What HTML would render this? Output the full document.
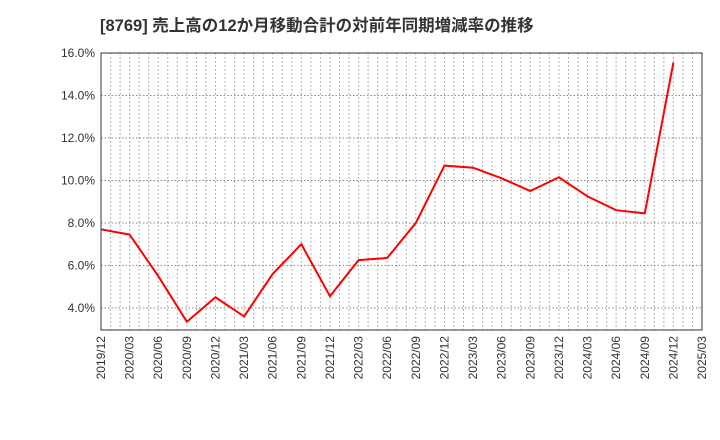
<!DOCTYPE html>
<html><head><meta charset="utf-8"><style>
body{margin:0;background:#fff;}
svg{display:block;font-family:"Liberation Sans","Noto Sans CJK JP",sans-serif;}
</style></head><body>
<svg id="chart" width="720" height="440">
<text x="100" y="31" font-size="16.5" font-weight="bold" fill="#333">[8769]  売上高の12か月移動合計の対前年同期増減率の推移</text>
<g id="grid"></g>
<g id="yaxis"></g>
<g id="xaxis"></g>
<rect x="101" y="53" width="601" height="277" fill="none" stroke="#333" stroke-width="1"/>
<polyline id="line" fill="none" stroke="#f00" stroke-width="2"/>
</svg>
<script>
const categories=["2019/12","2020/03","2020/06","2020/09","2020/12","2021/03","2021/06","2021/09","2021/12","2022/03","2022/06","2022/09","2022/12","2023/03","2023/06","2023/09","2023/12","2024/03","2024/06","2024/09","2024/12","2025/03"];
const values=[7.7,7.45,5.5,3.35,4.5,3.6,5.6,7.0,4.55,6.25,6.35,8.0,10.7,10.6,10.1,9.5,10.15,9.25,8.6,8.45,15.55];
const yTicks=[4,6,8,10,12,14,16];
const L=101,R=702,T=53,B=330,yMin=2.96,yMax=16;
const ns="http://www.w3.org/2000/svg";
const xs=i=>L+(R-L)*i/(categories.length-1);
const ys=v=>B-(v-yMin)/(yMax-yMin)*(B-T);
const grid=document.getElementById('grid'),ya=document.getElementById('yaxis'),xa=document.getElementById('xaxis');
function mk(t,a,p){const e=document.createElementNS(ns,t);for(const k in a)e.setAttribute(k,a[k]);p.appendChild(e);return e;}
const months=(categories.length-1)*3;
for(let m=1;m<months;m++){const x=L+(R-L)*m/months;
const g=mk('line',{x1:x,x2:x,y1:T,y2:B,stroke:'#999','stroke-dasharray':'1.5,2.5'},grid);

}
yTicks.forEach(v=>{const y=ys(v);
const g=mk('line',{x1:L,x2:R,y1:y,y2:y,stroke:'#888','stroke-dasharray':'1.5,2'},grid);


const t=mk('text',{x:L-6,y:y+4,'text-anchor':'end','font-size':12,fill:'#333'},ya);t.textContent=v.toFixed(1)+'%';

});
categories.forEach((c,i)=>{const x=xs(i);
const t=mk('text',{x:0,y:0,'text-anchor':'end','font-size':12,fill:'#333',transform:`translate(${x+4},${B+6}) rotate(-90)`},xa);t.textContent=c;

});
document.getElementById('line').setAttribute('points',values.map((v,i)=>xs(i)+','+ys(v)).join(' '));
</script>
</body></html>
